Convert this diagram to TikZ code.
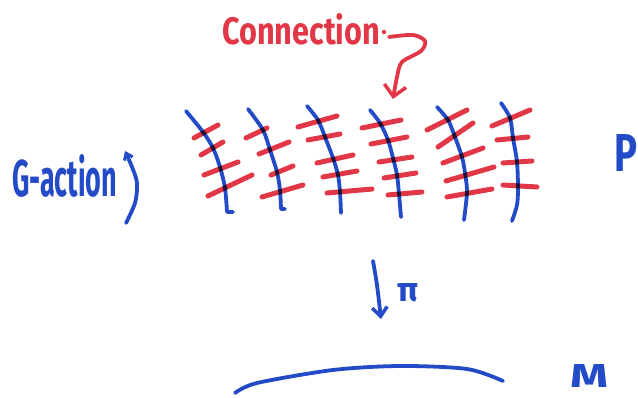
\documentclass[tikz,border=0pt]{standalone}
\usepackage{fontspec}
\setmainfont{Fira Sans}
\usetikzlibrary{arrows.meta}
\definecolor{penblue}{RGB}{35,75,200}
\definecolor{penred}{RGB}{225,55,70}
\tikzset{
  fiber/.style={draw=penblue, line width=3.8pt, line cap=round, line join=round},
  hstroke/.style={draw=penred, line width=5pt, line cap=round},
  pen/.style={line width=3.8pt, line cap=round, line join=round},
  handtext/.style={inner sep=0pt, anchor=base west, font=\bfseries},
}
\begin{document}
\begin{tikzpicture}[x=1pt,y=-1pt]
\useasboundingbox (0,0) rectangle (638,398);

% labels
\node[handtext, text=penred] (conn) at (222,45) {\resizebox{158pt}{31pt}{Connection}};
\node[handtext, text=penblue] (gact) at (12,197) {\resizebox{105pt}{42pt}{G-action}};
\node[handtext, text=penblue, font=\fontseries{sb}\selectfont] (tot) at (614,172) {\resizebox{23pt}{37pt}{P}};
\node[handtext, text=penblue, font=\fontseries{sb}\selectfont] (base) at (570,388) {\resizebox{38pt}{23pt}{M}};
\node[handtext, text=penblue] (proj) at (397,302) {\resizebox{21pt}{18pt}{π}};

\begin{scope}[blend group=multiply]
% vertical fibres
\draw[fiber] plot[smooth] coordinates {(186,111) (203,132) (213,148) (220,167) (225,188) (227,212)} -- (233,212);
\draw[fiber] plot[smooth] coordinates {(248,109) (263,130) (270,150) (277,172) (280,190) (281,209)} -- (285,209);
\draw[fiber] plot[smooth] coordinates {(307,106) (318,120) (325,137) (333,158) (338,175) (340,192) (341,213)};
\draw[fiber] plot[smooth] coordinates {(370,110) (380,123) (388,140) (393,158) (397,175) (399,194) (401,217)};
\draw[fiber] plot[smooth] coordinates {(437,107) (448,120) (455,137) (462,157) (465,173) (467,192) (464,220)};
\draw[fiber] plot[smooth] coordinates {(501,103) (510,118) (513,138) (517,162) (518,188) (517,205) (512,221)};

% horizontal strokes
\foreach \a/\b in {
  {(194,138)}/{(218,125)}, {(201,155)}/{(223,142)}, {(204,175)}/{(238,162)}, {(208,196)}/{(252,175)},
  {(246,138)}/{(267,128)}, {(259,154)}/{(289,142)}, {(271,175)}/{(293,166)}, {(262,197)}/{(303,185)},
  {(298,127)}/{(337,116)}, {(308,140)}/{(340,134)}, {(317,163)}/{(353,155)}, {(323,177)}/{(357,171)}, {(327,193)}/{(372,189)},
  {(362,128)}/{(401,120)}, {(371,144)}/{(407,137)}, {(379,162)}/{(412,157)}, {(384,178)}/{(416,173)}, {(388,195)}/{(422,192)},
  {(427,130)}/{(467,110)}, {(438,147)}/{(473,123)}, {(443,163)}/{(483,148)}, {(446,181)}/{(494,167)}, {(447,197)}/{(492,189)},
  {(492,126)}/{(530,110)}, {(497,140)}/{(528,137)}, {(503,163)}/{(532,161)}, {(503,185)}/{(537,187)}}
  \draw[hstroke] \a -- \b;
\end{scope}

% pointer from the connection label
\fill[penred] (384,32) circle (2.2pt);
\coordinate (c0) at (389,37);
\coordinate (c1) at (393,99);
\draw[pen, draw=penred, -{Straight Barb[length=11pt,width=22pt,line width=3.5pt]}]
  plot[smooth] coordinates {(c0) (413,35) (425,41) (421,51) (402,62) (397,77) (c1)};

% group action arrow
\coordinate (g0) at (126,223);
\coordinate (g1) at (125,151);
\draw[pen, draw=penblue, -{Straight Barb[length=6pt,width=9pt,line width=3pt]}]
  plot[smooth] coordinates {(g0) (135,203) (137,183) (132,167) (g1)};

% projection arrow
\coordinate (p0) at (373,261);
\coordinate (p1) at (381,319);
\draw[pen, draw=penblue, -{Straight Barb[length=9pt,width=15pt,line width=3.5pt]}]
  plot[smooth] coordinates {(p0) (377,285) (p1)};

% base manifold
\draw[fiber] plot[smooth] coordinates {(235,393) (257,383) (333,370) (400,366) (467,369) (503,381)};
\end{tikzpicture}
\end{document}
